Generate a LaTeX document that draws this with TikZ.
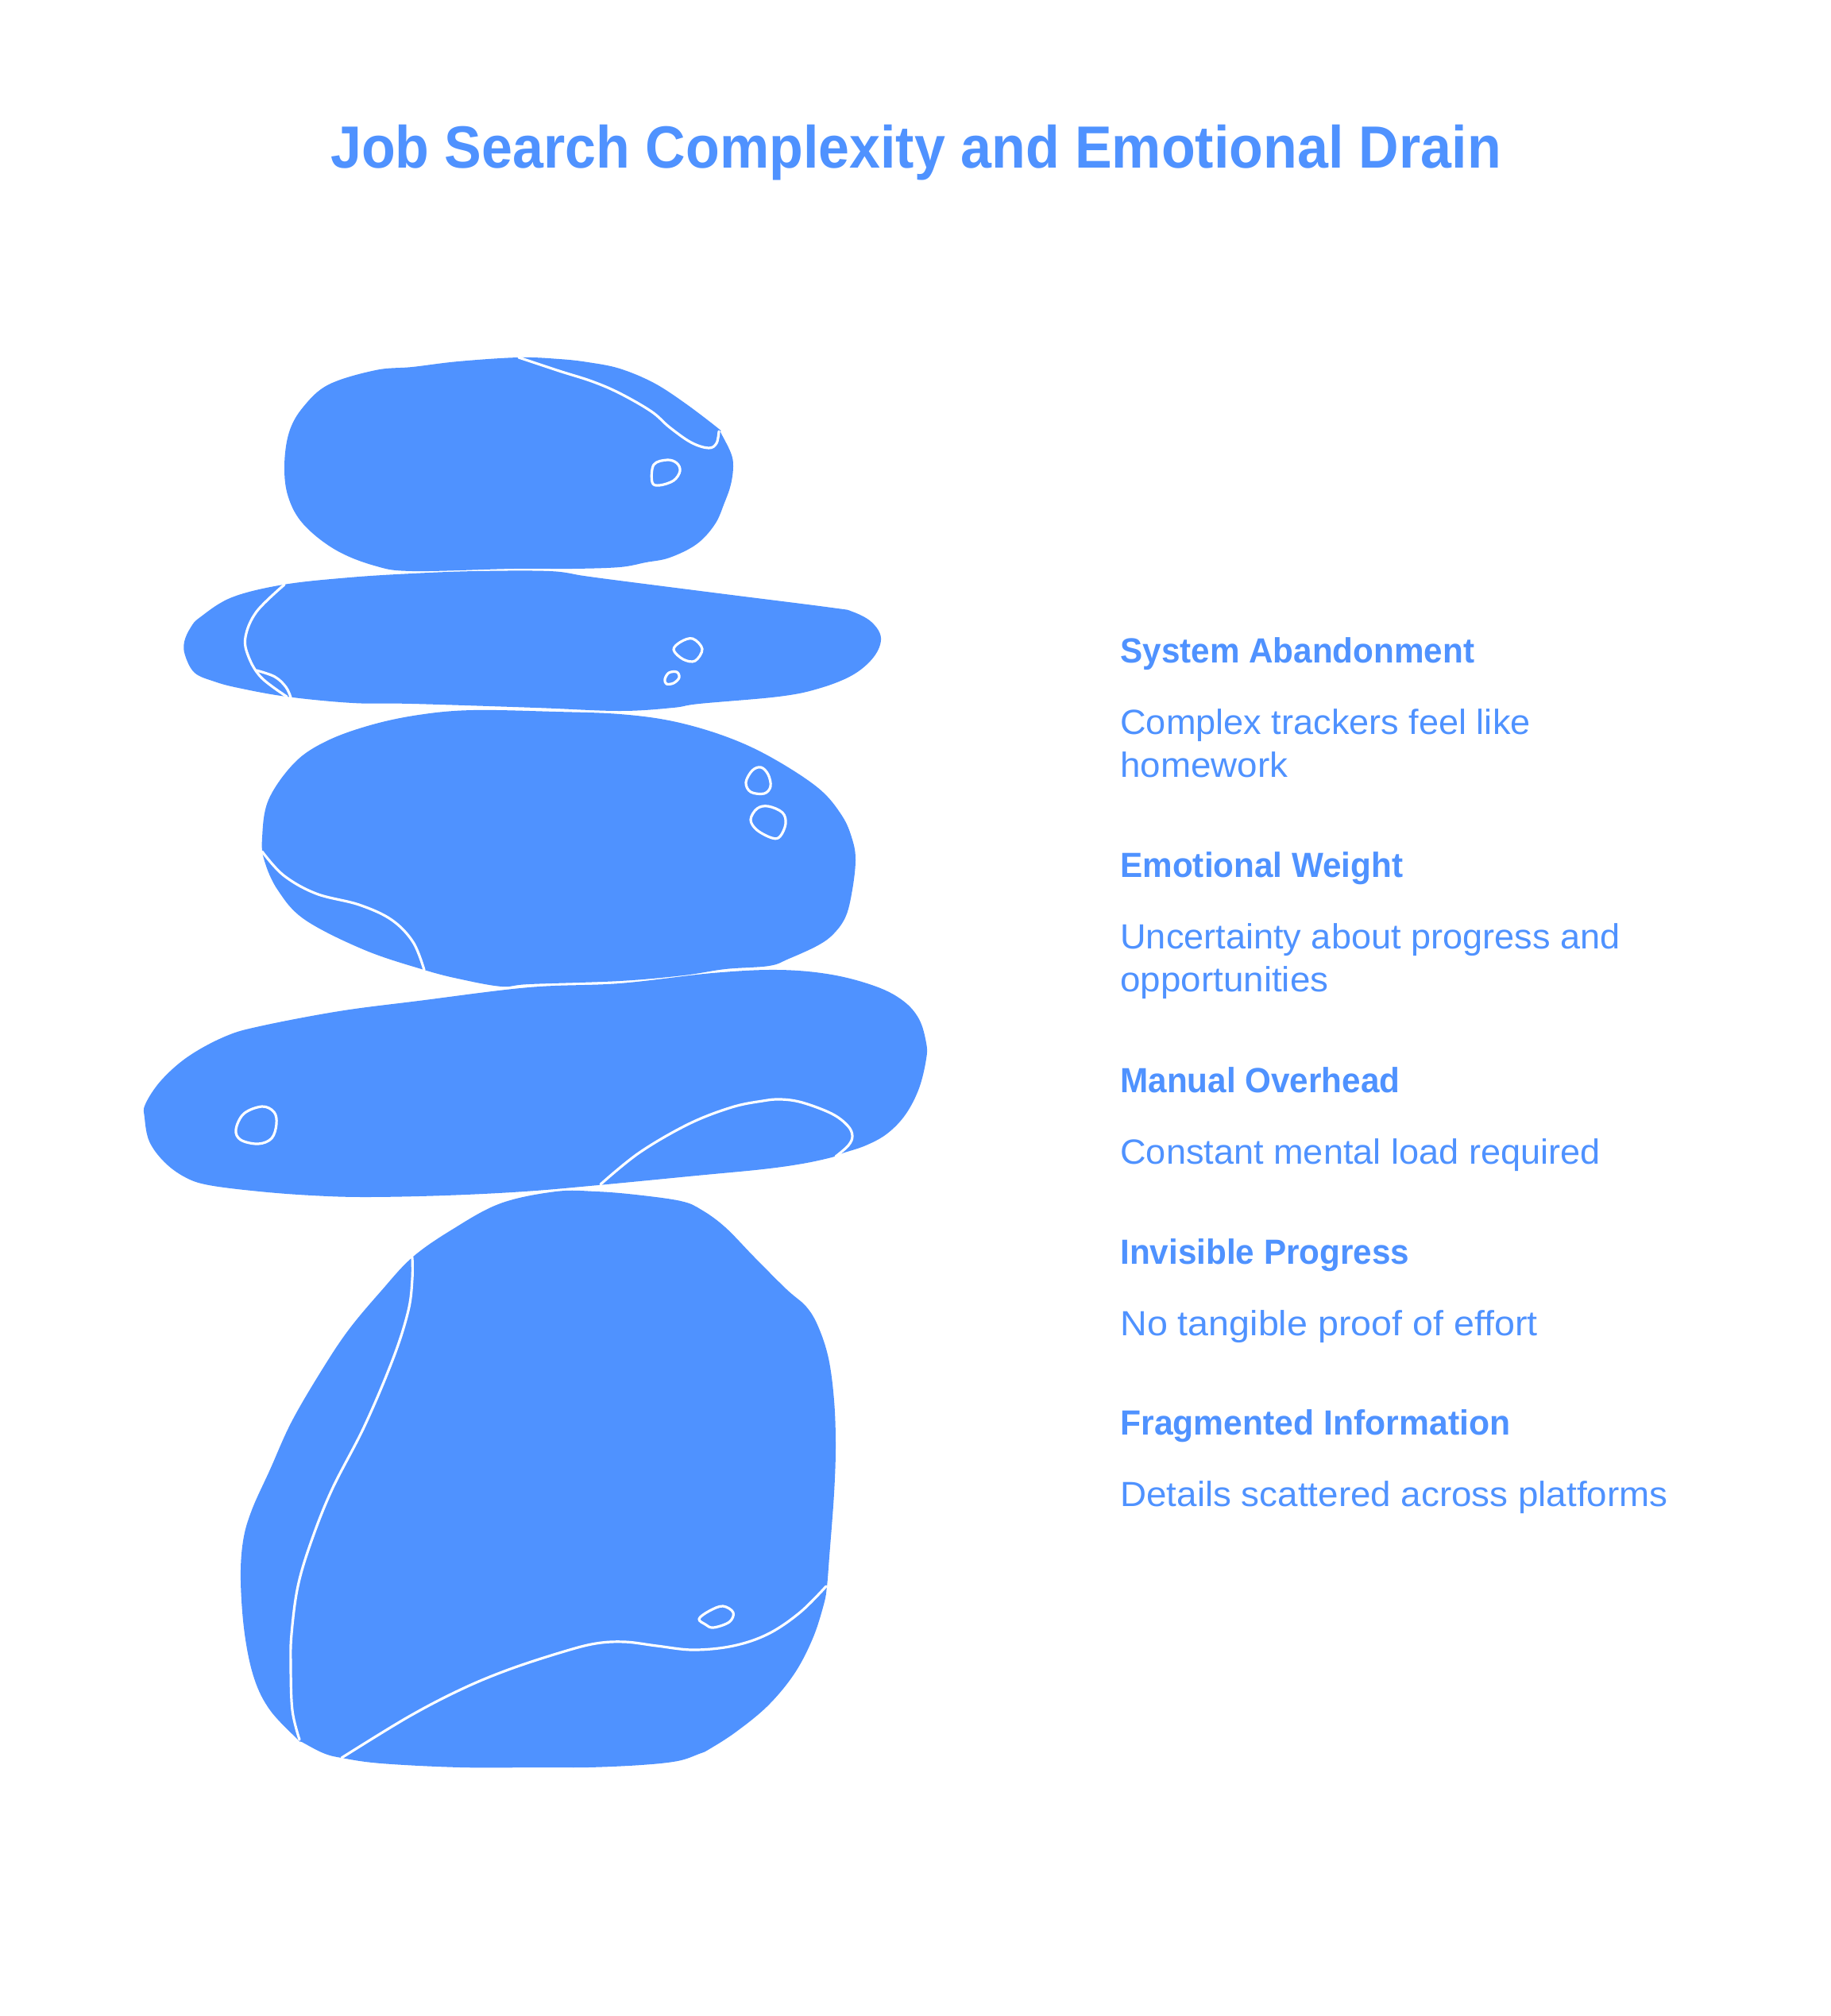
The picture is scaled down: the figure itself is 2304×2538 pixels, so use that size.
\documentclass[tikz,border=0pt]{standalone}
\usepackage{fontspec}
\setmainfont{Liberation Sans}
\newfontfamily\headfam{Liberation Sans}[FakeStretch=0.96]
\newfontfamily\headwidefam{Liberation Sans}[FakeStretch=0.97]
\newfontfamily\bodyfam{Liberation Sans}[FakeStretch=1.025]
\newfontfamily\bodywidefam{Liberation Sans}[FakeStretch=1.04]
\newfontfamily\bodywiderfam{Liberation Sans}[FakeStretch=1.06]
\newfontfamily\titlefam{Liberation Sans}[FakeStretch=0.933]
\definecolor{rock}{HTML}{4F92FF}
\tikzset{
  rockfill/.style={fill=rock,draw=none},
  seam/.style={draw=white,line width=1.6pt,line cap=round,line join=round},
  headtext/.style={anchor=base west,inner sep=0pt,text=rock,font=\headfam\fontsize{22}{26}\selectfont\bfseries},
  headwide/.style={anchor=base west,inner sep=0pt,text=rock,font=\headwidefam\fontsize{22}{26}\selectfont\bfseries},
  bodytext/.style={anchor=base west,inner sep=0pt,text=rock,font=\bodyfam\fontsize{22}{26}\selectfont},
  bodywide/.style={anchor=base west,inner sep=0pt,text=rock,font=\bodywidefam\fontsize{22}{26}\selectfont},
  bodywider/.style={anchor=base west,inner sep=0pt,text=rock,font=\bodywiderfam\fontsize{22}{26}\selectfont},
  titletext/.style={anchor=base,inner sep=0pt,text=rock,font=\titlefam\fontsize{37.5}{42}\selectfont\bfseries}
}
\begin{document}
\begin{tikzpicture}[x=0.5pt,y=-0.5pt]
\useasboundingbox (0,0) rectangle (2304,2538);
\fill[white] (0,0) rectangle (2304,2538);
% rock 1
\fill[rockfill] plot[smooth cycle,tension=0.6] coordinates {(653,450)(704,452)(740,456)(780,464)(823,482)(863,508)(905,540)(907,544)(920,570)(923,587)(920,610)(912,633)(900,660)(877,685)(843,702)(813,708)(780,714)(720,716)(646,716)(519,719)(471,712)(422,692)(382,660)(363,626)(358,587)(364,544)(382,512)(414,484)(473,466)(519,462)(577,455)};
\draw[seam] plot[smooth,tension=0.6] coordinates {(653,450)(704,467)(745,480)(780,495)(820,518)(843,538)(870,557)(892,564)(902,558)(905,543)};
\draw[seam] plot[smooth cycle,tension=0.6] coordinates {(823,585)(840,579)(852,583)(856,593)(848,605)(830,611)(821,607)};
% rock 2
\fill[rockfill] plot[smooth cycle,tension=0.6] coordinates {(519,722)(600,719)(692,719)(735,725)(780,731)(913,748)(1047,765)(1073,770)(1097,783)(1109,803)(1100,827)(1073,850)(1030,867)(980,877)(880,886)(847,891)(780,895)(675,891)(519,886)(444,885)(361,877)(300,866)(270,858)(245,847)(233,825)(232,808)(240,790)(252,777)(292,752)(357,736)(440,727)};
\draw[seam] plot[smooth,tension=0.6] coordinates {(358,736)(323,770)(309,802)(313,827)(329,853)(361,877)};
\draw[seam] plot[smooth,tension=0.6] coordinates {(323,844)(346,852)(360,865)(366,878)};
\draw[seam] plot[smooth cycle,tension=0.6] coordinates {(848,818)(857,808)(872,804)(884,817)(875,832)(860,830)};
\draw[seam] plot[smooth cycle,tension=0.6] coordinates {(837,855)(842,847)(852,846)(855,853)(848,860)(839,861)};
% rock 3
\fill[rockfill] plot[smooth cycle,tension=0.6] coordinates {(595,894)(700,896)(780,899)(847,908)(913,927)(970,953)(1030,992)(1060,1027)(1073,1057)(1077,1083)(1073,1120)(1065,1153)(1050,1175)(1030,1190)(993,1207)(968,1216)(913,1220)(860,1228)(780,1235)(666,1239)(632,1242)(581,1233)(534,1221)(459,1196)(384,1158)(350,1121)(333,1084)(330,1055)(338,1007)(371,960)(411,933)(466,913)(527,900)};
\draw[seam] plot[smooth,tension=0.6] coordinates {(330,1072)(357,1102)(398,1125)(452,1139)(493,1158)(520,1186)(534,1221)};
\draw[seam] plot[smooth cycle,tension=0.6] coordinates {(939,985)(947,970)(958,966)(967,975)(970,990)(962,999)(945,997)};
\draw[seam] plot[smooth cycle,tension=0.6] coordinates {(945,1032)(953,1018)(967,1015)(985,1023)(989,1037)(982,1053)(972,1055)(953,1045)};
% rock 4
\fill[rockfill] plot[smooth cycle,tension=0.6] coordinates {(666,1243)(780,1238)(897,1225)(980,1221)(1047,1227)(1103,1242)(1137,1260)(1157,1283)(1166,1313)(1166,1333)(1157,1370)(1140,1403)(1117,1427)(1090,1442)(1060,1452)(1047,1457)(1010,1465)(960,1472)(877,1480)(753,1492)(660,1500)(560,1505)(460,1507)(393,1505)(327,1500)(263,1492)(233,1482)(207,1463)(188,1437)(182,1407)(183,1390)(203,1360)(237,1330)(283,1305)(327,1292)(427,1273)(527,1260)};
\draw[seam] plot[smooth,tension=0.6] coordinates {(756,1491)(805,1451)(867,1415)(921,1394)(960,1386)(983,1384)(1010,1388)(1047,1402)(1067,1417)(1073,1430)(1068,1442)(1052,1456)};
\draw[seam] plot[smooth cycle,tension=0.6] coordinates {(297,1422)(307,1402)(330,1393)(345,1400)(348,1415)(342,1433)(325,1440)(303,1435)};
% rock 5
\fill[rockfill] plot[smooth cycle,tension=0.6] coordinates {(700,1500)(750,1500)(800,1504)(857,1512)(883,1523)(913,1545)(950,1583)(990,1623)(1015,1645)(1030,1670)(1043,1710)(1050,1763)(1052,1820)(1050,1880)(1044,1960)(1041,1997)(1037,2020)(1023,2063)(1000,2107)(967,2147)(927,2180)(893,2202)(880,2208)(853,2217)(807,2222)(740,2225)(680,2225)(580,2225)(480,2220)(430,2213)(407,2207)(380,2193)(375,2190)(340,2153)(320,2113)(308,2057)(303,1990)(306,1940)(317,1901)(340,1850)(367,1790)(405,1725)(439,1674)(480,1625)(519,1583)(569,1548)(630,1515)};
\draw[seam] plot[smooth,tension=0.6] coordinates {(519,1583)(519,1610)(514,1650)(495,1710)(459,1795)(418,1875)(392,1940)(375,1997)(367,2057)(366,2097)(368,2153)(377,2190)};
\draw[seam] plot[smooth,tension=0.6] coordinates {(430,2213)(513,2162)(580,2127)(640,2102)(707,2080)(750,2069)(787,2067)(827,2072)(873,2077)(923,2072)(967,2057)(1007,2030)(1040,1997)};
\draw[seam] plot[smooth cycle,tension=0.6] coordinates {(880,2038)(893,2028)(910,2022)(923,2030)(918,2042)(898,2049)(888,2045)};
% text
\node[titletext] (title) at (1153,211) {Job Search Complexity and Emotional Drain};
\node[headtext] (h1) at (1410,834) {System Abandonment};
\node[bodytext] (b1a) at (1410,924) {Complex trackers feel like};
\node[bodywide] (b1b) at (1410,978) {homework};
\node[headtext] (h2) at (1410,1104) {Emotional Weight};
\node[bodytext] (b2a) at (1410,1194) {Uncertainty about progress and};
\node[bodywide] (b2b) at (1410,1248) {opportunities};
\node[headtext] (h3) at (1410,1375) {Manual Overhead};
\node[bodytext] (b3) at (1410,1465) {Constant mental load required};
\node[headtext] (h4) at (1410,1591) {Invisible Progress};
\node[bodywider] (b4) at (1410,1681) {No tangible proof of effort};
\node[headwide] (h5) at (1410,1806) {Fragmented Information};
\node[bodywide] (b5) at (1410,1896) {Details scattered across platforms};
\end{tikzpicture}
\end{document}
